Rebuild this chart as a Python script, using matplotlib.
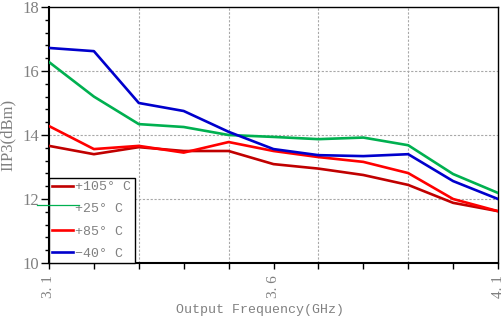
import matplotlib
matplotlib.use("Agg")
import matplotlib.pyplot as plt
from matplotlib.lines import Line2D
from matplotlib.ticker import MultipleLocator

freq = [3.1, 3.2, 3.3, 3.4, 3.5, 3.6, 3.7, 3.8, 3.9, 4.0, 4.1]
iip3_105 = [13.66, 13.40, 13.62, 13.50, 13.50, 13.09, 12.95, 12.75, 12.44, 11.88, 11.62]
iip3_25 = [16.28, 15.20, 14.34, 14.25, 14.00, 13.94, 13.87, 13.92, 13.68, 12.78, 12.19]
iip3_85 = [14.28, 13.56, 13.66, 13.45, 13.78, 13.50, 13.31, 13.16, 12.81, 12.00, 11.62]
iip3_m40 = [16.72, 16.62, 15.00, 14.75, 14.10, 13.56, 13.37, 13.34, 13.40, 12.56, 12.00]

series = [
    ("+105° C", iip3_105, "#C00000"),
    ("+25° C", iip3_25, "#00B050"),
    ("+85° C", iip3_85, "#FF0000"),
    ("\u221240° C", iip3_m40, "#0000CC"),
]

x_tick_labels = ["3. 1", "", "", "", "", "3. 6", "", "", "", "", "4. 1"]
x_grid = [3.3, 3.5, 3.7, 3.9]
y_grid = [12, 14, 16]

W, H = 502, 320
fig = plt.figure(figsize=(W / 100, H / 100), dpi=100)
ax = fig.add_axes([49 / W, 1 - 263 / H, (498 - 49) / W, (263 - 7) / H])

for name, vals, color in series:
    ax.plot(freq, vals, color=color, lw=1.9, label=name, zorder=3)

ax.set_xlim(3.1, 4.1)
ax.set_ylim(10, 18)

ax.set_xticks(freq, labels=x_tick_labels)
ax.tick_params(axis="x", which="major", length=4, width=1, direction="out",
               labelrotation=90, labelsize=11, labelcolor="#808080", pad=5)

ax.yaxis.set_major_locator(MultipleLocator(2))
ax.yaxis.set_minor_locator(MultipleLocator(0.4))
ax.tick_params(axis="y", which="major", length=6, width=1, labelsize=12,
               labelcolor="#808080", pad=1)
ax.tick_params(axis="y", which="minor", length=3, width=1)
for lbl in ax.get_xticklabels() + ax.get_yticklabels():
    lbl.set_family("Liberation Serif")

for x in x_grid:
    ax.axvline(x, color="#a8a8a8", lw=0.8, ls=(0, (2, 1.5)), zorder=1)
for y in y_grid:
    ax.axhline(y, color="#a8a8a8", lw=0.8, ls=(0, (2, 1.5)), zorder=1)

for side in ["left", "bottom"]:
    ax.spines[side].set_linewidth(1.5)
for side in ["top", "right"]:
    ax.spines[side].set_linewidth(1.0)

ax.set_xlabel("Output Frequency(GHz)", family="Liberation Mono", fontsize=9.5,
              color="#808080")
ax.xaxis.set_label_coords(0.47, -0.16)
ax.set_ylabel("IIP3(dBm)", family="Liberation Serif", fontsize=12, color="#808080")
ax.yaxis.set_label_coords(-0.075, 0.5)

# the +25 entry shows no line in the legend
handles = []
for name, vals, color in series:
    lw = 0 if name == "+25° C" else 1.9
    handles.append(Line2D([], [], color=color, lw=lw))
leg = ax.legend(handles, [s[0] for s in series], loc="lower left",
                bbox_to_anchor=(0, 0), borderaxespad=0, fancybox=False,
                framealpha=1, edgecolor="black", handlelength=1.6,
                handletextpad=0.15, labelspacing=0.75, borderpad=0.25,
                prop={"family": "Liberation Mono", "size": 9.5})
leg.get_frame().set_linewidth(1.0)
for t in leg.get_texts():
    t.set_color("#808080")

# stray green stroke left of the legend
fig.add_artist(Line2D([37 / W, 79 / W], [1 - 205 / H, 1 - 205 / H],
                      color="#00B050", lw=0.9))

fig.savefig("out.png", dpi=100)
